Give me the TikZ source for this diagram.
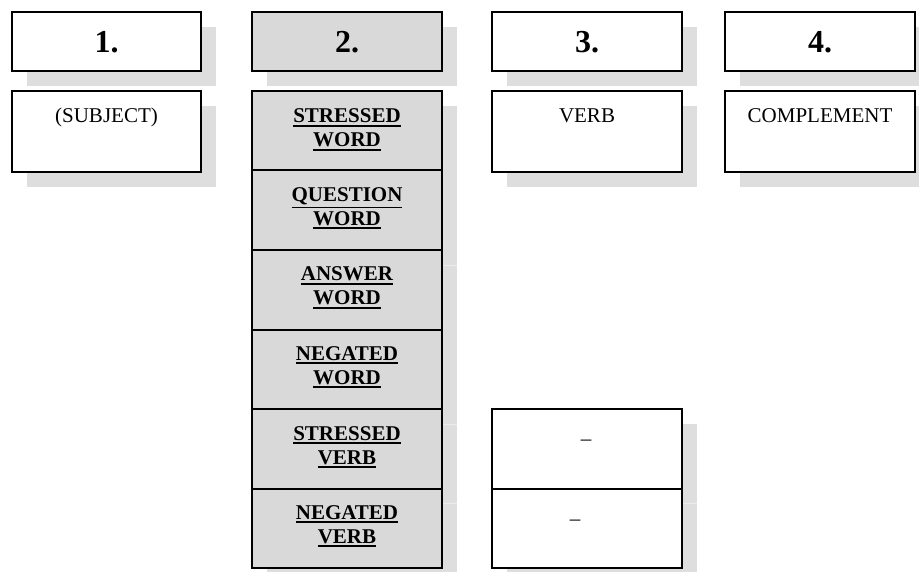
\documentclass[tikz,border=0pt]{standalone}
\usepackage{fontspec}
\setmainfont{Liberation Serif}
\usetikzlibrary{calc}
\definecolor{cellgray}{HTML}{D9D9D9}
\definecolor{shadowgray}{HTML}{DEDEDE}
\definecolor{seamgray}{HTML}{ECECEC}
\newcommand\myul[1]{\leavevmode\vtop{\hbox{#1}\kern1.6pt\hrule height 1.7pt}}
\tikzset{
  box/.style={draw=black, line width=2pt, fill=white, inner sep=0pt, anchor=north west},
  graybox/.style={box, fill=cellgray},
  head/.style={font=\fontsize{32}{36}\selectfont\bfseries, anchor=base, inner sep=0pt},
  lbl/.style={font=\fontsize{21}{24}\selectfont, anchor=base, inner sep=0pt, align=center},
  blbl/.style={font=\fontsize{21}{24}\selectfont\bfseries, anchor=base, inner sep=0pt, align=center},
}
\begin{document}
\begin{tikzpicture}[x=1pt,y=-1pt]
\clip (0,0) rectangle (919,572);
\fill[white] (0,0) rectangle (919,572);
% shadows: headers
\foreach \xa/\xb in {11/200, 251/441, 491/681, 724/914}{
  \fill[shadowgray] (\xa+16,27) rectangle (\xb+16,86);
}
% shadows: row 2 single boxes
\foreach \xa/\xb in {11/200, 491/681, 724/914}{
  \fill[shadowgray] (\xa+16,106) rectangle (\xb+16,187);
}
% shadows: column 2 cells
\foreach \ya/\yb in {90/169.5, 169.5/249, 249/328.5, 328.5/408, 408/487.5, 487.5/567}{
  \fill[shadowgray] (251+16,\ya+16) rectangle (441+16,\yb+16);
}
% shadows: column 3 lower cells
\foreach \ya/\yb in {408/487.5, 487.5/567}{
  \fill[shadowgray] (491+16,\ya+16) rectangle (681+16,\yb+16);
}
% faint seams in shadows
\foreach \yy in {265, 424, 503.5}{
  \draw[seamgray, line width=0.8pt] (441,\yy) -- (457,\yy);
}
\draw[seamgray, line width=0.8pt] (681,503.5) -- (697,503.5);

% headers
\node[box, minimum width=189pt, minimum height=59pt] (h1) at (11,11) {};
\node[graybox, minimum width=190pt, minimum height=59pt] (h2) at (251,11) {};
\node[box, minimum width=190pt, minimum height=59pt] (h3) at (491,11) {};
\node[box, minimum width=190pt, minimum height=59pt] (h4) at (724,11) {};
\node[head] (h1t) at ($(h1.north)+(0,41.5)$) {1.};
\node[head] (h2t) at ($(h2.north)+(0,41.5)$) {2.};
\node[head] (h3t) at ($(h3.north)+(0,41.5)$) {3.};
\node[head] (h4t) at ($(h4.north)+(0,41.5)$) {4.};

% row 2 single boxes
\node[box, minimum width=189pt, minimum height=81pt] (b1) at (11,90) {};
\node[box, minimum width=190pt, minimum height=81pt] (b3) at (491,90) {};
\node[box, minimum width=190pt, minimum height=81pt] (b4) at (724,90) {};
\node[lbl] (b1t) at ($(b1.north)+(0,33)$) {(SUBJECT)};
\node[lbl] (b3t) at ($(b3.north)+(0,33)$) {VERB};
\node[lbl] (b4t) at ($(b4.north)+(0,33)$) {COMPLEMENT};

% column 2 cells
\node[graybox, minimum width=190pt, minimum height=79.5pt] (c1) at (251,90) {};
\node[graybox, minimum width=190pt, minimum height=79.5pt] (c2) at (251,169.5) {};
\node[graybox, minimum width=190pt, minimum height=79.5pt] (c3) at (251,249) {};
\node[graybox, minimum width=190pt, minimum height=79.5pt] (c4) at (251,328.5) {};
\node[graybox, minimum width=190pt, minimum height=79.5pt] (c5) at (251,408) {};
\node[graybox, minimum width=190pt, minimum height=79.5pt] (c6) at (251,487.5) {};
\node[blbl] (c1t) at ($(c1.north)+(0,57)$) {\myul{STRESSED}\\\myul{WORD}};
\node[blbl] (c2t) at ($(c2.north)+(0,56)$) {\myul{QUESTION}\\\myul{WORD}};
\node[blbl] (c3t) at ($(c3.north)+(0,56)$) {\myul{ANSWER}\\\myul{WORD}};
\node[blbl] (c4t) at ($(c4.north)+(0,56)$) {\myul{NEGATED}\\\myul{WORD}};
\node[blbl] (c5t) at ($(c5.north)+(0,56)$) {\myul{STRESSED}\\\myul{VERB}};
\node[blbl] (c6t) at ($(c6.north)+(0,56)$) {\myul{NEGATED}\\\myul{VERB}};

% column 3 lower cells
\node[box, minimum width=190pt, minimum height=79.5pt] (d1) at (491,408) {};
\node[box, minimum width=190pt, minimum height=79.5pt] (d2) at (491,487.5) {};
\node[lbl] (d1t) at (586,445.7) {–};
\node[lbl] (d2t) at (575,525.7) {–};
\end{tikzpicture}
\end{document}
